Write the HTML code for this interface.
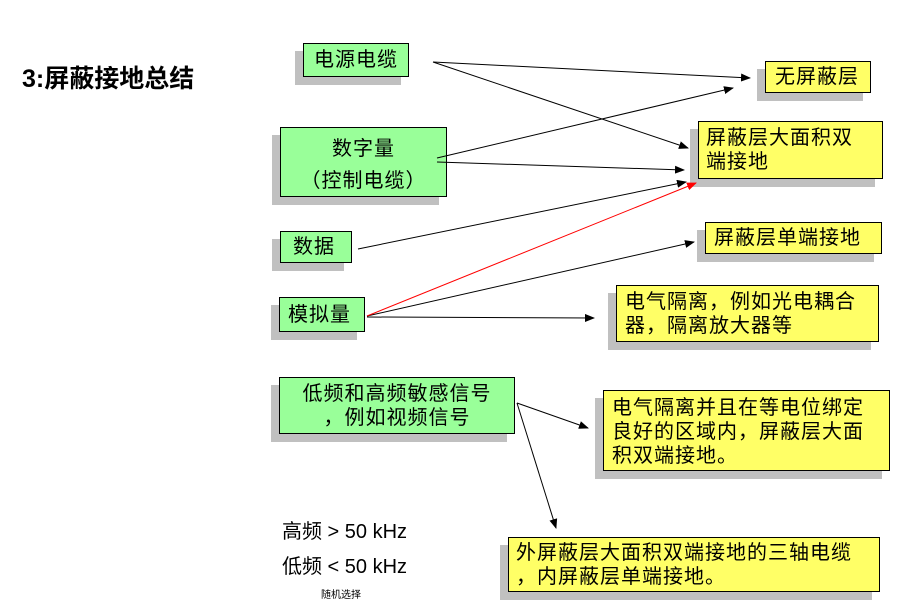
<!DOCTYPE html>
<html><head><meta charset="utf-8"><style>
body{margin:0;width:903px;height:613px;background:#fff;position:relative;overflow:hidden;font-family:"Liberation Sans","Noto Sans CJK SC",sans-serif}
.b{position:absolute;border:1px solid #000;box-shadow:-8px 8px 0 #c0c0c0;font-size:20px;letter-spacing:1px;line-height:24px;box-sizing:border-box;color:#000;white-space:nowrap}
.g{background:#99ff99}.y{background:#ffff66}
.t{position:absolute;white-space:nowrap}
svg{position:absolute;left:0;top:0}
</style></head><body>
<div class="t" style="left:22px;top:59px;font-size:25px;font-weight:bold">3:屏蔽接地总结</div>
<div class="b g" style="left:303px;top:43px;width:106px;height:34px;padding:4px 0 0 10px">电源电缆</div>
<div class="b g" style="left:280px;top:127px;width:167px;height:70px;text-align:center;padding-top:5px;line-height:32px">数字量<br>（控制电缆）</div>
<div class="b g" style="left:280px;top:231px;width:72px;height:32px;padding:3px 0 0 12px">数据</div>
<div class="b g" style="left:279px;top:297px;width:86px;height:35px;padding:5px 0 0 8px">模拟量</div>
<div class="b g" style="left:279px;top:377px;width:236px;height:57px;text-align:center;padding-top:4px">低频和高频敏感信号<br>，例如视频信号</div>
<div class="b y" style="left:765px;top:61px;width:106px;height:32px;padding:3px 0 0 9px">无屏蔽层</div>
<div class="b y" style="left:698px;top:121px;width:185px;height:58px;padding:4px 0 0 7px">屏蔽层大面积双<br>端接地</div>
<div class="b y" style="left:705px;top:222px;width:177px;height:32px;padding:3px 0 0 8px">屏蔽层单端接地</div>
<div class="b y" style="left:616px;top:285px;width:263px;height:57px;padding:4px 0 0 8px">电气隔离，例如光电耦合<br>器，隔离放大器等</div>
<div class="b y" style="left:603px;top:390px;width:287px;height:81px;padding:5px 0 0 8px">电气隔离并且在等电位绑定<br>良好的区域内，屏蔽层大面<br>积双端接地。</div>
<div class="b y" style="left:508px;top:537px;width:372px;height:55px;padding:3px 0 0 7px">外屏蔽层大面积双端接地的三轴电缆<br>，内屏蔽层单端接地。</div>
<div class="t" style="left:282px;top:515px;font-size:20px">高频 &gt; 50 kHz</div>
<div class="t" style="left:282px;top:550px;font-size:20px">低频 &lt; 50 kHz</div>
<div class="t" style="left:321px;top:586px;font-size:10px">随机选择</div>
<svg width="903" height="613">
<defs>
<marker id="a" markerWidth="10" markerHeight="8" refX="9" refY="4" orient="auto" markerUnits="userSpaceOnUse"><path d="M0,0L10,4L0,8z" fill="#000"/></marker>
<marker id="r" markerWidth="10" markerHeight="8" refX="9" refY="4" orient="auto" markerUnits="userSpaceOnUse"><path d="M0,0L10,4L0,8z" fill="red"/></marker>
</defs>
<g stroke="#000" stroke-width="1" fill="none" marker-end="url(#a)">
<line x1="433" y1="62" x2="750" y2="78"/>
<line x1="433" y1="62" x2="688" y2="148"/>
<line x1="437" y1="158" x2="733" y2="88"/>
<line x1="437" y1="162" x2="684" y2="170"/>
<line x1="358" y1="249" x2="686" y2="182"/>
<line x1="367" y1="316" x2="694" y2="242"/>
<line x1="367" y1="317" x2="594" y2="318"/>
<line x1="517" y1="403" x2="588" y2="428"/>
<line x1="517" y1="403" x2="556" y2="528"/>
</g>
<line x1="367" y1="316" x2="696" y2="183" stroke="red" stroke-width="1" marker-end="url(#r)"/>
</svg>
</body></html>
